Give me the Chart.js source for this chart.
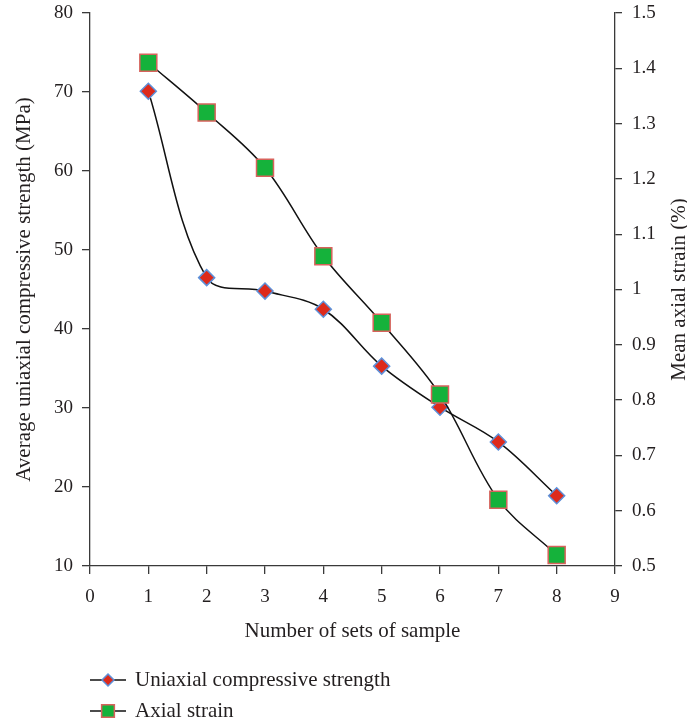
<!DOCTYPE html>
<html>
<head>
<meta charset="utf-8">
<script src="https://cdn.jsdelivr.net/npm/chart.js@4/dist/chart.umd.min.js"></script>
<style>
  html, body { margin: 0; padding: 0; background: #fff; }
  #wrap { position: relative; width: 687px; height: 725px; }
  #legend { position: absolute; left: 90px; top: 664px; font-family: "Liberation Serif", serif; font-size: 21px; color: #231f20; }
  .row { display: flex; align-items: center; height: 31px; }
  .row canvas { margin-right: 9px; }
</style>
</head>
<body>
<div id="wrap">
  <canvas id="strengthChart" width="687" height="725"></canvas>
  <div id="legend"></div>
</div>
<script>
const sampleSets = [1, 2, 3, 4, 5, 6, 7, 8];
const ucsValues = [70.1, 46.5, 44.8, 42.5, 35.3, 30.1, 25.7, 18.9];
const strainValues = [1.41, 1.32, 1.22, 1.06, 0.94, 0.81, 0.62, 0.52];

const xTicks = [0, 1, 2, 3, 4, 5, 6, 7, 8, 9];
const leftTicks = [10, 20, 30, 40, 50, 60, 70, 80];
const rightTicks = [0.5, 0.6, 0.7, 0.8, 0.9, 1, 1.1, 1.2, 1.3, 1.4, 1.5];

const seriesNames = ['Uniaxial compressive strength', 'Axial strain'];

const serif = '"Liberation Serif", "Times New Roman", serif';
const textColor = '#231f20';
const axisColor = '#3a3a3a';

const ucsStyle = { pointStyle: 'rectRot', radius: 8, fill: '#dd2a1b', stroke: '#5d90d9' };
const strainStyle = { pointStyle: 'rect', radius: 12, fill: '#15b23b', stroke: '#d8625c' };

function points(values) {
  return sampleSets.map((x, i) => ({ x: x, y: values[i] }));
}

function fixedTicks(list) {
  return scale => { scale.ticks = list.map(v => ({ value: v })); };
}

// pin the axis box sizes so the plot area lands where the original has it
function fitBox(size) {
  return s => {
    if (s.isHorizontal()) s.height = size; else s.width = size;
    s.paddingTop = 0; s.paddingBottom = 0; s.paddingLeft = 0; s.paddingRight = 0;
  };
}

// right axis title reads bottom-to-top in the original, chart.js rotates it the other way
const rightTitle = {
  id: 'rightTitle',
  afterDraw(chart) {
    const { ctx, chartArea } = chart;
    ctx.save();
    ctx.translate(685, (chartArea.top + chartArea.bottom) / 2);
    ctx.rotate(-Math.PI / 2);
    ctx.font = '21px ' + serif;
    ctx.fillStyle = textColor;
    ctx.textAlign = 'center';
    ctx.textBaseline = 'alphabetic';
    ctx.fillText('Mean axial strain (%)', 0, 0);
    ctx.restore();
  }
};

const chart = new Chart(document.getElementById('strengthChart'), {
  type: 'line',
  data: {
    datasets: [{
      label: seriesNames[0],
      data: points(ucsValues),
      yAxisID: 'y',
      order: 1,
      borderColor: '#111',
      borderWidth: 1.5,
      tension: 0.35,
      pointStyle: ucsStyle.pointStyle,
      pointRadius: ucsStyle.radius,
      pointBackgroundColor: ucsStyle.fill,
      pointBorderColor: ucsStyle.stroke,
      pointBorderWidth: 1.5,
      clip: false
    }, {
      label: seriesNames[1],
      data: points(strainValues),
      yAxisID: 'y1',
      order: 0,
      borderColor: '#111',
      borderWidth: 1.5,
      tension: 0.35,
      pointStyle: strainStyle.pointStyle,
      pointRadius: strainStyle.radius,
      pointBackgroundColor: strainStyle.fill,
      pointBorderColor: strainStyle.stroke,
      pointBorderWidth: 1.5,
      clip: false
    }]
  },
  options: {
    responsive: false,
    animation: false,
    events: [],
    layout: { autoPadding: false, padding: { top: 13, bottom: 75, left: 0, right: 0 } },
    plugins: { legend: { display: false }, tooltip: { enabled: false } },
    scales: {
      x: {
        type: 'linear', min: 0, max: 9, position: 'bottom',
        afterBuildTicks: fixedTicks(xTicks),
        afterFit: fitBox(84),
        grid: { drawOnChartArea: false, drawTicks: true, tickLength: 8, color: axisColor, lineWidth: 1.3 },
        border: { display: true, color: axisColor, width: 1.3 },
        ticks: { color: textColor, font: { family: serif, size: 19 }, padding: 12, maxRotation: 0 },
        title: { display: true, text: 'Number of sets of sample', color: textColor, font: { family: serif, size: 21 }, padding: { top: 0, bottom: 6 } }
      },
      y: {
        type: 'linear', min: 10, max: 80, position: 'left',
        afterBuildTicks: fixedTicks(leftTicks),
        afterFit: fitBox(90),
        grid: { drawOnChartArea: false, drawTicks: true, tickLength: 8, color: axisColor, lineWidth: 1.3 },
        border: { display: true, color: axisColor, width: 1.3 },
        ticks: { color: textColor, font: { family: serif, size: 19 }, padding: 9 },
        title: { display: true, text: 'Average uniaxial compressive strength (MPa)', color: textColor, font: { family: serif, size: 21 }, padding: { top: 12, bottom: 0 } }
      },
      y1: {
        type: 'linear', min: 0.5, max: 1.5, position: 'right',
        afterBuildTicks: fixedTicks(rightTicks),
        afterFit: fitBox(72),
        grid: { drawOnChartArea: false, drawTicks: true, tickLength: 7, color: axisColor, lineWidth: 1.3 },
        border: { display: true, color: axisColor, width: 1.3 },
        ticks: { color: textColor, font: { family: serif, size: 19 }, padding: 10, callback: v => String(+v.toFixed(1)) }
      }
    }
  },
  plugins: [rightTitle]
});

// legend: line with marker, then the series name
function legendIcon(style, r) {
  const c = document.createElement('canvas');
  c.width = 36; c.height = 24;
  const g = c.getContext('2d');
  g.strokeStyle = '#111';
  g.lineWidth = 1.5;
  g.beginPath(); g.moveTo(0, 12); g.lineTo(36, 12); g.stroke();
  g.fillStyle = style.fill;
  g.strokeStyle = style.stroke;
  g.beginPath();
  if (style.pointStyle === 'rectRot') {
    g.moveTo(18 - r, 12); g.lineTo(18, 12 - r); g.lineTo(18 + r, 12); g.lineTo(18, 12 + r);
  } else {
    const h = r * Math.SQRT1_2;
    g.rect(18 - h, 12 - h, 2 * h, 2 * h);
  }
  g.closePath(); g.fill(); g.stroke();
  return c;
}

const legend = document.getElementById('legend');
[[ucsStyle, 6], [strainStyle, 9]].forEach((s, i) => {
  const row = document.createElement('div');
  row.className = 'row';
  row.appendChild(legendIcon(s[0], s[1]));
  const label = document.createElement('span');
  label.textContent = seriesNames[i];
  row.appendChild(label);
  legend.appendChild(row);
});
</script>
</body>
</html>
